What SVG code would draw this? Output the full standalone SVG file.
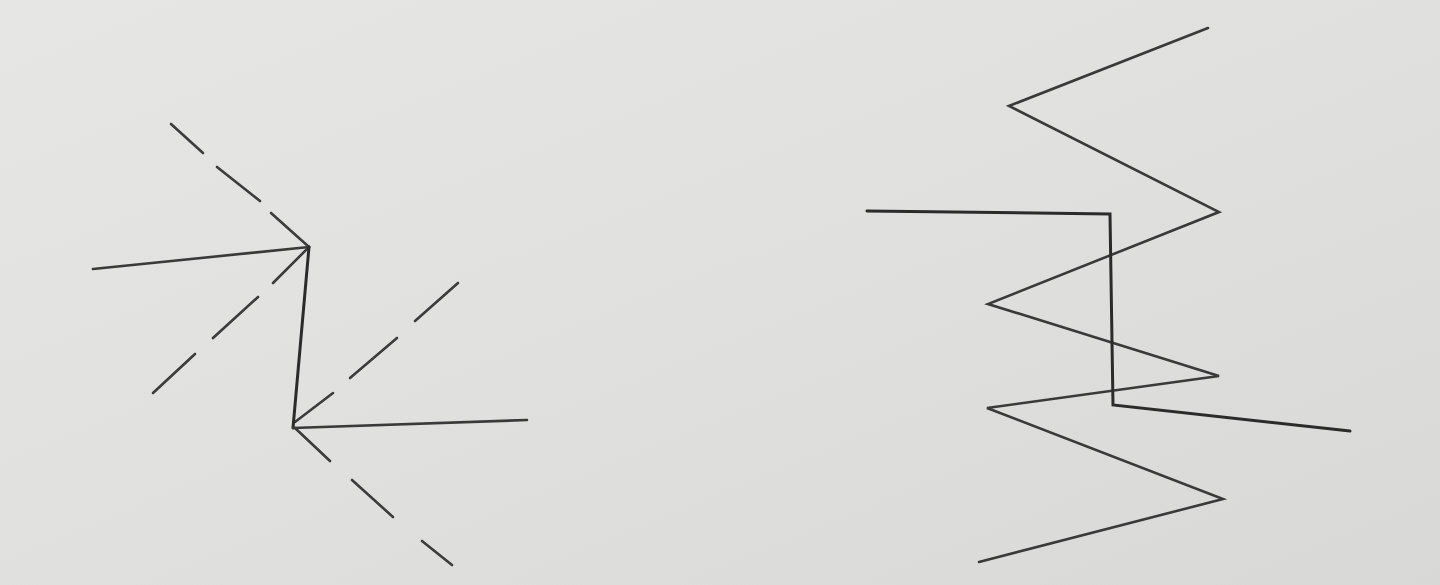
<svg xmlns="http://www.w3.org/2000/svg" width="1440" height="585" viewBox="0 0 1440 585">
  <defs>
    <linearGradient id="bg" x1="0" y1="0" x2="1" y2="1">
      <stop offset="0" stop-color="#e6e6e4"/>
      <stop offset="0.5" stop-color="#e0e0de"/>
      <stop offset="1" stop-color="#d8d8d6"/>
    </linearGradient>
  </defs>
  <style>
    .solid { fill: none; stroke: #2b2b2b; stroke-width: 3; stroke-linecap: round; stroke-linejoin: miter; }
    .thin { fill: none; stroke: #3a3a3a; stroke-width: 2.6; stroke-linecap: round; }
    .dash { fill: none; stroke: #3c3c3c; stroke-width: 2.6; stroke-linecap: round; }
  </style>
  <rect x="0" y="0" width="1440" height="585" fill="url(#bg)"/>

  <g id="left-figure">
    <g id="left-dashed">
      <line class="dash" x1="171" y1="124" x2="203" y2="153"/>
      <line class="dash" x1="217" y1="167" x2="260" y2="201"/>
      <line class="dash" x1="271" y1="213" x2="309" y2="247"/>

      <line class="dash" x1="309" y1="247" x2="273" y2="283"/>
      <line class="dash" x1="258" y1="297" x2="213" y2="338"/>
      <line class="dash" x1="195" y1="354" x2="153" y2="393"/>

      <line class="dash" x1="295" y1="422" x2="333" y2="393"/>
      <line class="dash" x1="350" y1="378" x2="397" y2="338"/>
      <line class="dash" x1="415" y1="321" x2="458" y2="283"/>

      <line class="dash" x1="295" y1="428" x2="330" y2="461"/>
      <line class="dash" x1="352" y1="480" x2="393" y2="517"/>
      <line class="dash" x1="422" y1="541" x2="452" y2="565"/>
    </g>
    <g id="left-solid">
      <polyline class="thin" points="93,269 309,247"/>
      <polyline class="solid" points="309,247 293,428"/>
      <polyline class="thin" points="293,428 527,420"/>
    </g>
  </g>

  <g id="right-figure">
    <polyline class="thin" points="1208,28 1009,106 1219,212 988,304 1219,376 987,408 1223,499 979,562"/>
    <polyline class="solid" points="867,211 1110,214 1113,405 1350,431"/>
  </g>
</svg>
